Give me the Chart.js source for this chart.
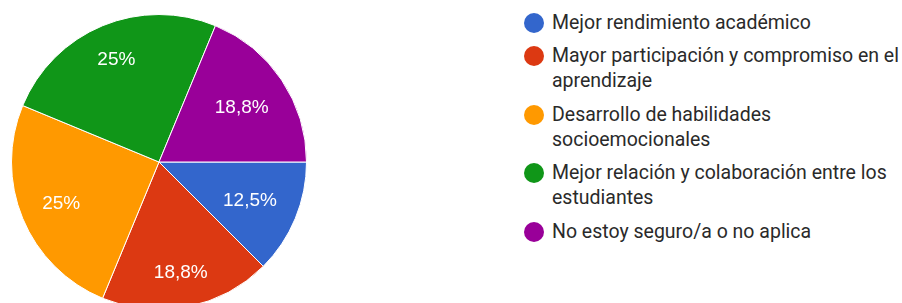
<!DOCTYPE html>
<html>
<head>
<meta charset="utf-8">
<script src="https://cdn.jsdelivr.net/npm/chart.js@4.4.0/dist/chart.umd.min.js"></script>
<style>
  html, body { margin: 0; padding: 0; background: #fff; }
  body { width: 902px; height: 303px; overflow: hidden; position: relative; font-family: Roboto, Arial, sans-serif; }
  #pieBox { position: absolute; left: 11px; top: 14px; width: 296px; height: 296px; }
  #legend { position: absolute; left: 524px; top: 9.5px; width: 378px; }
  .item { display: flex; align-items: flex-start; margin-bottom: 8.5px; }
  .dot { width: 20px; height: 20px; border-radius: 50%; margin-top: 3px; margin-right: 8px; flex: none; }
  .txt { font-size: 19.5px; line-height: 25px; color: #2a2a2a; }
</style>
</head>
<body>
<div id="pieBox"><canvas id="myChart"></canvas></div>
<div id="legend"></div>
<script>
// answers (legend labels, as wrapped in the picture)
const arrLabels = [
    ['Mejor rendimiento académico'],
    ['Mayor participación y compromiso en el', 'aprendizaje'],
    ['Desarrollo de habilidades', 'socioemocionales'],
    ['Mejor relación y colaboración entre los', 'estudiantes'],
    ['No estoy seguro/a o no aplica']
];
// percentages shown on the slices
const arrPercent = [12.5, 18.75, 25, 25, 18.75];
const arrColors = ['#3366cc', '#dc3912', '#ff9900', '#109618', '#990099'];

const ctx = document.getElementById('myChart');

// white percentage text inside each slice,
// pushed out until the outer corner of its box touches ~0.855 of the radius
const sliceLabels = {
    id: 'sliceLabels',
    afterDatasetsDraw(chart) {
        const c = chart.ctx;
        const meta = chart.getDatasetMeta(0);
        c.save();
        c.fillStyle = '#fff';
        c.font = '19px "Liberation Sans", Arial, sans-serif';
        c.textAlign = 'center';
        c.textBaseline = 'middle';
        meta.data.forEach(function(arc, i) {
            const p = arc.getProps(['x', 'y', 'startAngle', 'endAngle', 'outerRadius'], true);
            const mid = (p.startAngle + p.endAngle) / 2;
            let v = Math.round(arrPercent[i] * 10) / 10;
            let s = (v % 1 === 0 ? v.toFixed(0) : v.toFixed(1)).replace('.', ',') + '%';
            const hw = c.measureText(s).width / 2;
            const hh = 7;
            const ax = Math.abs(Math.cos(mid)), ay = Math.abs(Math.sin(mid));
            const R0 = p.outerRadius * 0.855;
            const b = ax * hw + ay * hh;
            const d = -b + Math.sqrt(b * b - (hw * hw + hh * hh - R0 * R0));
            c.fillText(s, p.x + Math.cos(mid) * d, p.y + Math.sin(mid) * d + 1);
        });
        c.restore();
    }
};

new Chart(ctx, {
    type: 'pie',
    data: {
        labels: arrLabels,
        datasets: [{
            data: arrPercent,
            backgroundColor: arrColors,
            borderColor: '#ffffff',
            borderWidth: 1
        }]
    },
    options: {
        responsive: true,
        maintainAspectRatio: false,
        animation: false,
        rotation: 90,
        layout: { padding: 0 },
        plugins: {
            legend: { display: false },
            tooltip: { enabled: false }
        }
    },
    plugins: [sliceLabels]
});

// html legend on the right
const legend = document.getElementById('legend');
arrLabels.forEach(function(lines, i) {
    const item = document.createElement('div');
    item.className = 'item';
    const dot = document.createElement('span');
    dot.className = 'dot';
    dot.style.background = arrColors[i];
    const txt = document.createElement('span');
    txt.className = 'txt';
    lines.forEach(function(line, j) {
        if (j > 0) txt.appendChild(document.createElement('br'));
        txt.appendChild(document.createTextNode(line));
    });
    item.appendChild(dot);
    item.appendChild(txt);
    legend.appendChild(item);
});
</script>
</body>
</html>
